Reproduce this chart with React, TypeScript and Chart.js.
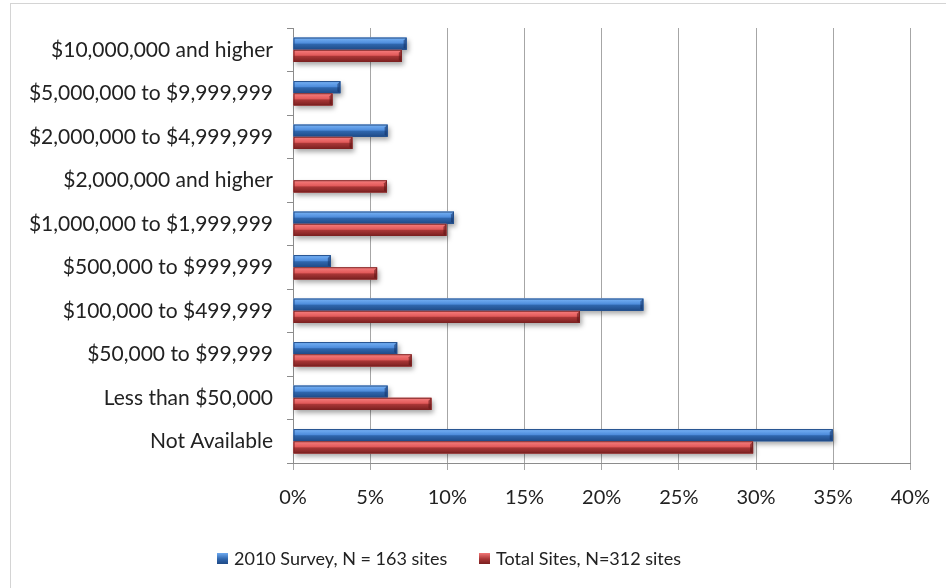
import React, { useEffect, useRef } from "react";
import { Chart, registerables } from "chart.js";

Chart.register(...registerables);

const categories = [
  "$10,000,000 and higher",
  "$5,000,000 to $9,999,999",
  "$2,000,000 to $4,999,999",
  "$2,000,000 and higher",
  "$1,000,000 to $1,999,999",
  "$500,000 to $999,999",
  "$100,000 to $499,999",
  "$50,000 to $99,999",
  "Less than $50,000",
  "Not Available",
];

const survey2010 = [7.36, 3.07, 6.13, 0, 10.43, 2.45, 22.7, 6.75, 6.13, 34.97];
const totalSites = [7.05, 2.56, 3.85, 6.09, 9.94, 5.45, 18.59, 7.69, 8.97, 29.81];

const xTickValues = [0, 5, 10, 15, 20, 25, 30, 35, 40];
const seriesLabels = ["2010 Survey, N = 163 sites", "Total Sites, N=312 sites"];

const FONT = "Lato, 'Open Sans', sans-serif";

const blueStops: [number, string][] = [
  [0, "#a9d0fb"],
  [0.12, "#6eaaf0"],
  [0.45, "#4f8ddc"],
  [0.55, "#2f66ad"],
  [1, "#1f4a86"],
];
const redStops: [number, string][] = [
  [0, "#fbb0b0"],
  [0.12, "#f27676"],
  [0.45, "#e25a5a"],
  [0.55, "#a83636"],
  [1, "#7a2020"],
];

const bevelPlugin = {
  id: "bevel",
  beforeDatasetsDraw(chart: any) {
    const ctx = chart.ctx;
    ctx.save();
    ctx.shadowColor = "rgba(0,0,0,0.35)";
    ctx.shadowBlur = 5;
    ctx.shadowOffsetX = 2;
    ctx.shadowOffsetY = 3;
    ctx.fillStyle = "#ffffff";
    chart.data.datasets.forEach((_: any, di: number) => {
      const meta = chart.getDatasetMeta(di);
      meta.data.forEach((el: any) => {
        const { x, y, base, height } = el.getProps(["x", "y", "base", "height"], true);
        const w = Math.abs(x - base);
        if (w < 1) return;
        ctx.fillRect(Math.min(x, base), y - height / 2, w, height);
      });
    });
    ctx.restore();
  },
  afterDatasetsDraw(chart: any) {
    const ctx = chart.ctx;
    ctx.save();
    chart.data.datasets.forEach((_: any, di: number) => {
      const meta = chart.getDatasetMeta(di);
      const stops = di === 0 ? blueStops : redStops;
      meta.data.forEach((el: any) => {
        const { x, y, base, height } = el.getProps(["x", "y", "base", "height"], true);
        const left = Math.min(x, base);
        const w = Math.abs(x - base);
        if (w < 1) return;
        const top = y - height / 2;
        const g = ctx.createLinearGradient(0, top, 0, top + height);
        stops.forEach(([o, c]) => g.addColorStop(o, c));
        ctx.fillStyle = g;
        ctx.fillRect(left, top, w, height);
        ctx.fillStyle = di === 0 ? "rgba(20,50,100,0.55)" : "rgba(90,20,20,0.55)";
        ctx.beginPath();
        ctx.moveTo(left + w, top);
        ctx.lineTo(left + w - 3, top + 3);
        ctx.lineTo(left + w - 3, top + height - 2);
        ctx.lineTo(left + w, top + height);
        ctx.closePath();
        ctx.fill();
        ctx.strokeStyle = di === 0 ? "#234f8c" : "#7d2222";
        ctx.lineWidth = 1;
        ctx.strokeRect(left + 0.5, top + 0.5, w - 1, height - 1);
      });
    });
    ctx.restore();
  },
};

function ChartCanvas() {
  const ref = useRef<HTMLCanvasElement | null>(null);
  useEffect(() => {
    if (!ref.current) return;
    const chart = new Chart(ref.current, {
      type: "bar",
      data: {
        labels: categories,
        datasets: [
          {
            label: seriesLabels[0],
            data: survey2010,
            backgroundColor: "#3c78c4",
            categoryPercentage: 0.56,
            barPercentage: 1,
          },
          {
            label: seriesLabels[1],
            data: totalSites,
            backgroundColor: "#c84444",
            categoryPercentage: 0.56,
            barPercentage: 1,
          },
        ],
      },
      options: {
        indexAxis: "y",
        responsive: false,
        animation: false,
        layout: { padding: { top: 28, right: 34, bottom: 70, left: 0 } },
        plugins: { legend: { display: false }, tooltip: { enabled: false } },
        scales: {
          x: {
            min: 0,
            max: 40,
            afterBuildTicks: (scale: any) => {
              scale.ticks = xTickValues.map((v) => ({ value: v }));
            },
            ticks: {
              color: "#222",
              font: { family: FONT, size: 20 },
              padding: 16,
              maxRotation: 0,
              callback: (v: any) => `${v}%`,
            },
            grid: { color: "#a6a6a6", tickLength: 7, lineWidth: 1 },
            border: { color: "#8c8c8c" },
            afterFit: (s: any) => {
              s.height = 55;
            },
          },
          y: {
            ticks: { color: "#222", font: { family: FONT, size: 21 }, padding: 14 },
            grid: { drawOnChartArea: false, tickLength: 6, color: "#8c8c8c" },
            border: { color: "#8c8c8c" },
            afterFit: (s: any) => {
              s.width = 293;
            },
          },
        },
      },
      plugins: [bevelPlugin],
    } as any);
    return () => chart.destroy();
  }, []);
  return <canvas ref={ref} width={946} height={588} style={{ display: "block" }} />;
}

const legendSwatches = [
  "linear-gradient(#6eaaf0, #2f66ad 55%, #1f4a86)",
  "linear-gradient(#f27676, #a83636 55%, #7a2020)",
];
const legendLeft = [217, 479];

export default function App() {
  return (
    <div style={{ position: "absolute", left: 0, top: 0, width: 946, height: 588, background: "#fff", overflow: "hidden" }}>
      <div style={{ position: "absolute", left: 10, top: 3, width: 940, height: 590, borderLeft: "1px solid #d4d4d4", borderTop: "1px solid #d4d4d4" }} />
      <div style={{ position: "absolute", left: 0, top: 0 }}>
        <ChartCanvas />
      </div>
      {seriesLabels.map((lab, i) => (
        <div
          key={lab}
          style={{
            position: "absolute",
            left: legendLeft[i],
            top: 546,
            height: 24,
            display: "flex",
            alignItems: "center",
            fontFamily: FONT,
            fontSize: 18,
            color: "#222",
            whiteSpace: "nowrap",
          }}
        >
          <span style={{ display: "inline-block", width: 11, height: 11, background: legendSwatches[i], marginRight: 6 }} />
          {lab}
        </div>
      ))}
    </div>
  );
}
